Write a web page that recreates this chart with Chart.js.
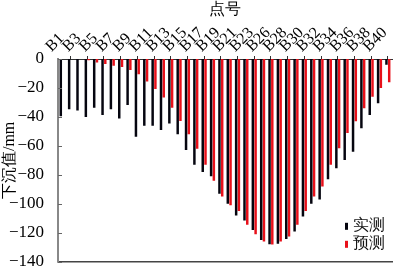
<!DOCTYPE html>
<html>
<head>
<meta charset="utf-8">
<script src="https://cdn.jsdelivr.net/npm/chart.js@4.4.1/dist/chart.umd.min.js"></script>
<style>
  html, body { margin: 0; padding: 0; background: #fff; overflow: hidden; }
  #wrap { position: relative; width: 400px; height: 269px; overflow: hidden; }
</style>
</head>
<body>
<div id="wrap">
  <canvas id="chart" width="400" height="278"></canvas>
</div>
<script>
// point names (B24 not in the survey line)
const points = ['B1','B2','B3','B4','B5','B6','B7','B8','B9','B10','B11','B12','B13','B14','B15','B16','B17','B18','B19','B20',
  'B21','B22','B23','B25','B26','B27','B28','B29','B30','B31','B32','B33','B34','B35','B36','B37','B38','B39','B40','B41'];

// subsidence, mm
const measured = [-39.5,-34.7,-35.6,-40,-33.6,-38.6,-34.7,-41,-31.7,-53.6,-46,-46,-49,-44.5,-52,-62.8,-73,-78,-81,-93,
  -100,-108,-111.5,-118,-125,-127.8,-127.5,-124.3,-119,-108.7,-100,-97,-83,-75.4,-69.7,-64,-47.8,-38.6,-30.6,-4];
const predicted = [0,0,0,-0.8,-2.5,-3.5,-4.7,-5.5,-7.6,-10.6,-15.6,-20.7,-26.5,-33.7,-42.8,-52,-62,-73,-84,-95,
  -101,-105,-114.5,-121,-126,-128,-126,-122.5,-114.5,-105,-95,-88,-73,-61.6,-51,-43,-34,-26,-20,-16];

const yTicks = [-140, -120, -100, -80, -60, -40, -20, 0];

const serif = "'Liberation Serif', serif";

// inner y ticks + legend in the lower right corner of the plot
const extras = {
  id: 'extras',
  afterDraw(chart) {
    const y = chart.scales.y;
    const area = chart.chartArea;
    const ctx = chart.ctx;
    ctx.save();
    ctx.strokeStyle = '#666';
    ctx.lineWidth = 1;
    ctx.beginPath();
    yTicks.forEach(v => {
      const py = Math.round(y.getPixelForValue(v)) + 0.5;
      ctx.moveTo(y.right, py);
      ctx.lineTo(y.right + 4, py);
    });
    ctx.stroke();

    ctx.font = '16px ' + serif;
    ctx.textBaseline = 'middle';
    ctx.fillStyle = '#111';
    chart.data.datasets.forEach((ds, i) => {
      const ly = area.bottom - 36 + i * 18;
      ctx.fillStyle = ds.backgroundColor;
      ctx.fillRect(area.right - 47, ly - 3, 3, 7);
      ctx.fillStyle = '#111';
      ctx.fillText(ds.label, area.right - 39, ly);
    });
    ctx.restore();
  }
};

new Chart(document.getElementById('chart'), {
  type: 'bar',
  data: {
    labels: points,
    datasets: [
      { label: '实测', data: measured, backgroundColor: '#05050f', categoryPercentage: 0.66, barPercentage: 0.9 },
      { label: '预测', data: predicted, backgroundColor: '#e8101a', categoryPercentage: 0.66, barPercentage: 0.9 }
    ]
  },
  options: {
    responsive: false,
    animation: false,
    layout: { padding: { right: 8 } },
    plugins: { legend: { display: false }, tooltip: { enabled: false } },
    scales: {
      x: {
        position: 'top',
        grid: { drawOnChartArea: false, tickLength: 3, color: '#333' },
        border: { color: '#333' },
        ticks: {
          autoSkip: false, minRotation: 45, maxRotation: 45, padding: 0, color: '#000',
          font: { family: serif, size: 16 },
          callback: function (v, i) { return i % 2 === 0 ? this.getLabelForValue(v) : null; }
        },
        title: { display: true, text: '点号', color: '#000', font: { family: serif, size: 16 }, padding: { top: 0, bottom: 2 } },
        afterFit: s => { s.height = 59; }
      },
      x2: {
        type: 'category',
        position: 'bottom',
        grid: { display: false },
        ticks: { display: false },
        border: { color: '#444', width: 1.5 },
        afterFit: s => { s.height = 7; }
      },
      y: {
        min: -140,
        max: 0,
        grid: { display: false },
        border: { color: '#888', width: 2 },
        ticks: {
          stepSize: 20,
          padding: 6,
          color: '#000',
          font: { family: serif, size: 17 },
          callback: v => v < 0 ? '\u2212' + Math.abs(v) : '' + v
        },
        title: { display: true, text: '下沉值/mm', color: '#000', font: { family: serif, size: 16 }, padding: 0 },
        afterFit: s => { s.width = 58; }
      }
    }
  },
  plugins: [extras]
});
</script>
</body>
</html>
